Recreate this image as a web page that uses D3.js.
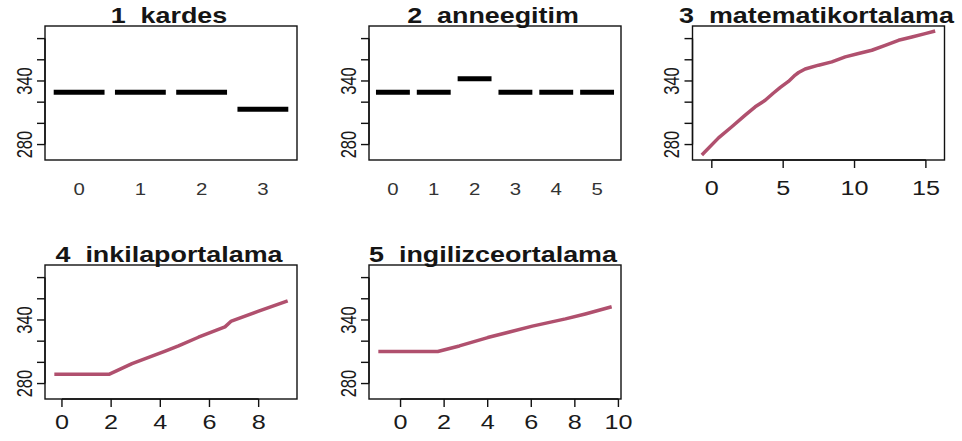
<!DOCTYPE html>
<html>
<head>
<meta charset="utf-8">
<script src="https://cdn.jsdelivr.net/npm/d3@7"></script>
<style>
  body { margin: 0; background: #fff; }
  text { font-family: "Liberation Sans", Arial, sans-serif; white-space: pre; }
</style>
</head>
<body>
<div id="content"></div>
<script>
// shared y axis
const yTicks = [280, 300, 320, 340, 360, 380]
const yTickLabels = [280, 340]

const titles = ["1  kardes", "2  anneegitim", "3  matematikortalama", "4  inkilaportalama", "5  ingilizceortalama"]

// factor panels
const kardesLevels = ["0", "1", "2", "3"]
const kardesValues = [329.4, 329.4, 329.4, 313.2]
const anneLevels = ["0", "1", "2", "3", "4", "5"]
const anneValues = [329.4, 329.4, 342.0, 329.4, 329.4, 329.4]

// numeric panels
const matX = [-0.70, 0.47, 1.40, 2.34, 3.04, 3.74, 4.30, 4.80, 5.37, 5.84, 6.08, 6.54, 7.48, 8.41, 9.35, 10.28, 11.21, 12.15, 13.08, 14.02, 14.95, 15.65]
const matY = [270.1, 286.3, 296.8, 307.8, 315.6, 321.8, 328.4, 334.0, 339.6, 345.6, 348.0, 351.3, 354.9, 358.0, 362.7, 365.9, 369.0, 373.7, 378.4, 381.5, 384.7, 387.2]
const matTicks = [0, 5, 10, 15]

const inkX = [-0.31, 1.91, 2.85, 4.20, 4.74, 5.55, 6.63, 6.89, 7.97, 9.18]
const inkY = [288.7, 288.7, 298.8, 310.6, 315.5, 323.7, 333.5, 339.0, 348.1, 358.1]
const inkTicks = [0, 2, 4, 6, 8]

const ingX = [-1.02, 1.71, 2.70, 4.00, 6.05, 7.57, 8.48, 9.69]
const ingY = [310.3, 310.3, 315.5, 323.4, 334.2, 341.0, 345.7, 352.5]
const ingTicks = [0, 2, 4, 6, 8, 10]

const lineColor = "#b0506e"
const boxWidth = 252
const boxHeight = 134
const colLeft = [45, 369, 692.5]
const rowTop = [26, 265]
const labelOffset = [35, 30]

const svg = d3.select("#content").append("svg")
    .attr("width", 962)
    .attr("height", 441)

// R style 4% padding
const pad = ext => {
    const r = ext[1] - ext[0]
    return [ext[0] - r * 0.04, ext[1] + r * 0.04]
}

const yScaleBase = d3.scaleLinear()
    .domain(pad(d3.extent(matY.concat(inkY, ingY, kardesValues, anneValues))))
    .range([boxHeight, 0])

function drawFrame(g, title, yScale) {
    g.append("rect")
        .attr("width", boxWidth)
        .attr("height", boxHeight)
        .attr("fill", "none")
        .attr("stroke", "#111")
        .attr("stroke-width", 1.4)

    g.append("text")
        .attr("transform", `translate(${boxWidth / 2 - 2},-3.5) scale(1.25,1)`)
        .attr("text-anchor", "middle")
        .style("font-size", "21.5px")
        .style("font-weight", "700")
        .attr("fill", "#151515")
        .text(title)

    // y axis
    g.append("line")
        .attr("x1", 0).attr("x2", 0)
        .attr("y1", yScale(yTicks[0])).attr("y2", yScale(yTicks[yTicks.length - 1]))
        .attr("stroke", "#111").attr("stroke-width", 1.4)
    g.selectAll(".ytick")
        .data(yTicks)
        .enter().append("line")
        .attr("class", "ytick")
        .attr("x1", -8).attr("x2", 0)
        .attr("y1", d => yScale(d)).attr("y2", d => yScale(d))
        .attr("stroke", "#111").attr("stroke-width", 1.4)
    g.selectAll(".ylab")
        .data(yTickLabels)
        .enter().append("text")
        .attr("class", "ylab")
        .attr("transform", d => `translate(-21,${yScale(d)}) rotate(-90) scale(1,1.3)`)
        .attr("text-anchor", "middle")
        .attr("dy", "0.35em")
        .style("font-size", "16.5px")
        .attr("fill", "#1a1a1a")
        .text(d => d)
}

function factorPanel(col, row, title, levels, values) {
    const g = svg.append("g")
        .attr("transform", `translate(${colLeft[col]},${rowTop[row]})`)
    const xScale = d3.scaleBand()
        .domain(levels)
        .range([3.5, boxWidth - 3.5])
        .paddingInner(0.17)
        .paddingOuter(0.085)
    drawFrame(g, title, yScaleBase)

    g.selectAll(".seg")
        .data(levels)
        .enter().append("line")
        .attr("class", "seg")
        .attr("x1", d => xScale(d))
        .attr("x2", d => xScale(d) + xScale.bandwidth())
        .attr("y1", (d, i) => yScaleBase(values[i]))
        .attr("y2", (d, i) => yScaleBase(values[i]))
        .attr("stroke", "#000")
        .attr("stroke-width", 5)

    g.selectAll(".xlab")
        .data(levels)
        .enter().append("text")
        .attr("class", "xlab")
        .attr("transform", d => `translate(${xScale(d) + xScale.bandwidth() / 2},${boxHeight + labelOffset[row]}) scale(1.2,1)`)
        .attr("text-anchor", "middle")
        .style("font-size", "17px")
        .attr("fill", "#333")
        .text(d => d)
}

function numericPanel(col, row, title, xs, ys, ticks) {
    const g = svg.append("g")
        .attr("transform", `translate(${colLeft[col]},${rowTop[row]})`)
    const xScale = d3.scaleLinear()
        .domain(pad(d3.extent(xs)))
        .range([0, boxWidth])
    drawFrame(g, title, yScaleBase)

    // x axis
    g.append("line")
        .attr("x1", xScale(ticks[0])).attr("x2", xScale(ticks[ticks.length - 1]))
        .attr("y1", boxHeight).attr("y2", boxHeight)
        .attr("stroke", "#111").attr("stroke-width", 1.4)
    g.selectAll(".xtick")
        .data(ticks)
        .enter().append("line")
        .attr("class", "xtick")
        .attr("x1", d => xScale(d)).attr("x2", d => xScale(d))
        .attr("y1", boxHeight).attr("y2", boxHeight + 8)
        .attr("stroke", "#111").attr("stroke-width", 1.4)
    g.selectAll(".xlab")
        .data(ticks)
        .enter().append("text")
        .attr("class", "xlab")
        .attr("transform", d => `translate(${xScale(d)},${boxHeight + labelOffset[row]}) scale(1.2,1)`)
        .attr("text-anchor", "middle")
        .style("font-size", "21px")
        .attr("fill", "#1a1a1a")
        .text(d => d)

    const line = d3.line()
        .x((d, i) => xScale(xs[i]))
        .y(d => yScaleBase(d))
    g.append("path")
        .datum(ys)
        .attr("d", line)
        .attr("fill", "none")
        .attr("stroke", lineColor)
        .attr("stroke-width", 3.5)
        .attr("stroke-linejoin", "round")
}

factorPanel(0, 0, titles[0], kardesLevels, kardesValues)
factorPanel(1, 0, titles[1], anneLevels, anneValues)
numericPanel(2, 0, titles[2], matX, matY, matTicks)
numericPanel(0, 1, titles[3], inkX, inkY, inkTicks)
numericPanel(1, 1, titles[4], ingX, ingY, ingTicks)
</script>
</body>
</html>
